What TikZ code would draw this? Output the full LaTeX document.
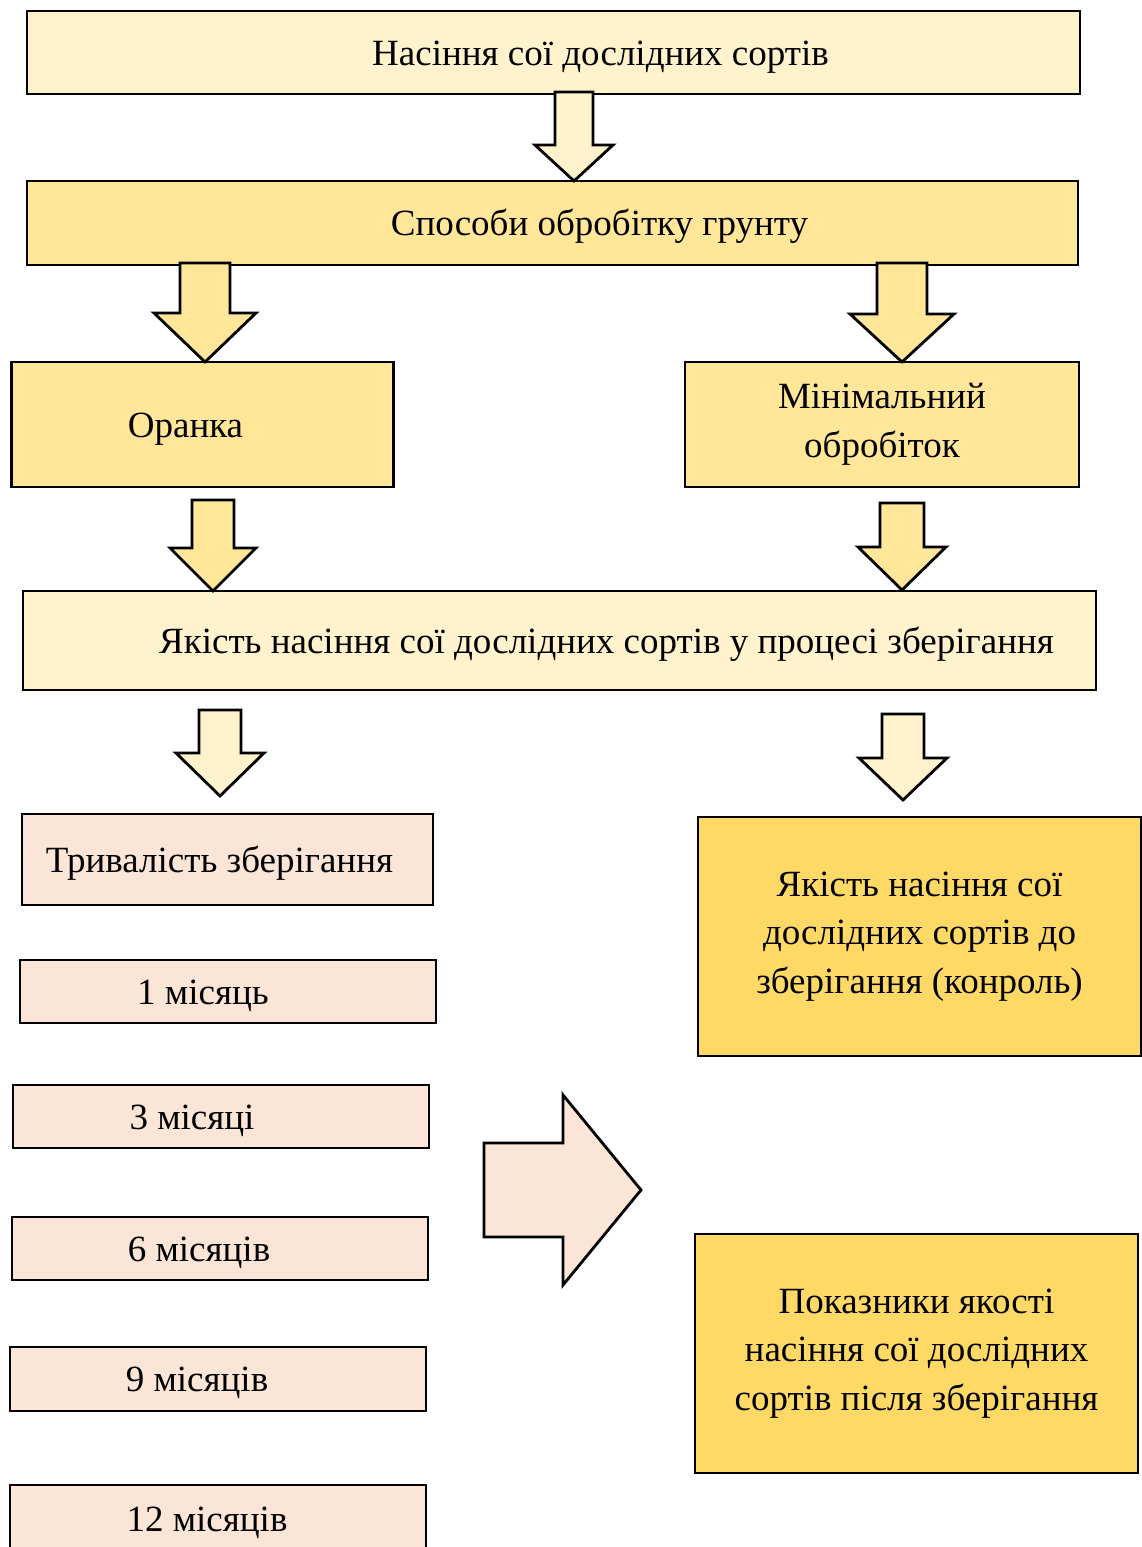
\documentclass[tikz,border=0pt]{standalone}
\usepackage{fontspec}
\setmainfont{Liberation Serif}
\definecolor{cream}{HTML}{FFF2CC}
\definecolor{sand}{HTML}{FFE699}
\definecolor{peach}{HTML}{FBE5D6}
\definecolor{gold}{HTML}{FFD966}
\tikzset{
  box/.style={draw=black, line width=2.8pt, rectangle, inner sep=0pt, align=center,
    font=\fontsize{37}{48.5}\selectfont},
  oneline/.style={box, text height=34pt, text depth=9pt},
  blockarrow/.style={draw=black, line width=2.8pt, line join=miter},
}
% x, ytop, ybase, ytip, half shaft, half head, colour
\newcommand\downblock[7]{%
  \filldraw[blockarrow, fill=#7] (#1-#5,#2) -- (#1+#5,#2) -- (#1+#5,#3) -- (#1+#6,#3)
    -- (#1,#4) -- (#1-#6,#3) -- (#1-#5,#3) -- cycle;}
\begin{document}
\begin{tikzpicture}[x=1pt,y=-1pt]
\useasboundingbox (0,0) rectangle (1142,1547);

\node[oneline, fill=cream, minimum width=1053pt, minimum height=83pt] (seed) at (553.5,52.5)
  {\hspace*{94pt}Насіння сої дослідних сортів};
\node[oneline, fill=sand, minimum width=1051pt, minimum height=84pt] (tillage) at (552.5,223)
  {\hspace*{94pt}Способи обробітку грунту};
\node[oneline, fill=sand, minimum width=382pt, minimum height=125pt] (plough) at (202.5,424.5)
  {Оранка\hspace*{34pt}};
\node[box, fill=sand, minimum width=394pt, minimum height=125pt] (mintill) at (882,424.5)
  {Мінімальний\\обробіток};
\node[oneline, fill=cream, minimum width=1073pt, minimum height=99pt] (quality) at (559.5,640.5)
  {\hspace*{94pt}Якість насіння сої дослідних сортів у процесі зберігання};

\node[oneline, fill=peach, minimum width=411pt, minimum height=91pt] (dur) at (227.5,859.5)
  {Тривалість зберігання\hspace*{16pt}};
\node[oneline, fill=peach, minimum width=416pt, minimum height=63pt] (m1) at (228,991.5)
  {1 місяць\hspace*{50pt}};
\node[oneline, fill=peach, minimum width=416pt, minimum height=63pt] (m3) at (221,1116.5)
  {3 місяці\hspace*{58pt}};
\node[oneline, fill=peach, minimum width=416pt, minimum height=63pt] (m6) at (220,1248.5)
  {6 місяців\hspace*{42pt}};
\node[oneline, fill=peach, minimum width=416pt, minimum height=64pt] (m9) at (218,1379)
  {9 місяців\hspace*{42pt}};
\node[oneline, fill=peach, minimum width=416pt, minimum height=68pt] (m12) at (218,1519)
  {12 місяців\hspace*{22pt}};

\node[box, fill=gold, minimum width=443pt, minimum height=239pt] (control) at (919.5,936.5)
  {Якість насіння сої\\дослідних сортів до\\зберігання (конроль)};
\node[box, fill=gold, minimum width=443pt, minimum height=239pt] (after) at (916.5,1353.5)
  {Показники якості\\насіння сої дослідних\\сортів після зберігання};

% block arrows
\downblock{574}{92}{145}{181}{19}{39}{cream}
\downblock{205}{263}{313}{362}{25}{51}{sand}
\downblock{902}{263}{314}{362}{25}{52}{sand}
\downblock{213}{500}{548}{591}{21}{43}{sand}
\downblock{902}{503}{547}{590}{22}{44}{sand}
\downblock{220}{710}{753}{796}{21}{44}{cream}
\downblock{903}{714}{758}{800}{21}{44}{cream}

\filldraw[blockarrow, fill=peach] (484,1143) -- (563,1143) -- (563,1095) -- (641,1190)
  -- (563,1285) -- (563,1237) -- (484,1237) -- cycle;
\end{tikzpicture}
\end{document}
